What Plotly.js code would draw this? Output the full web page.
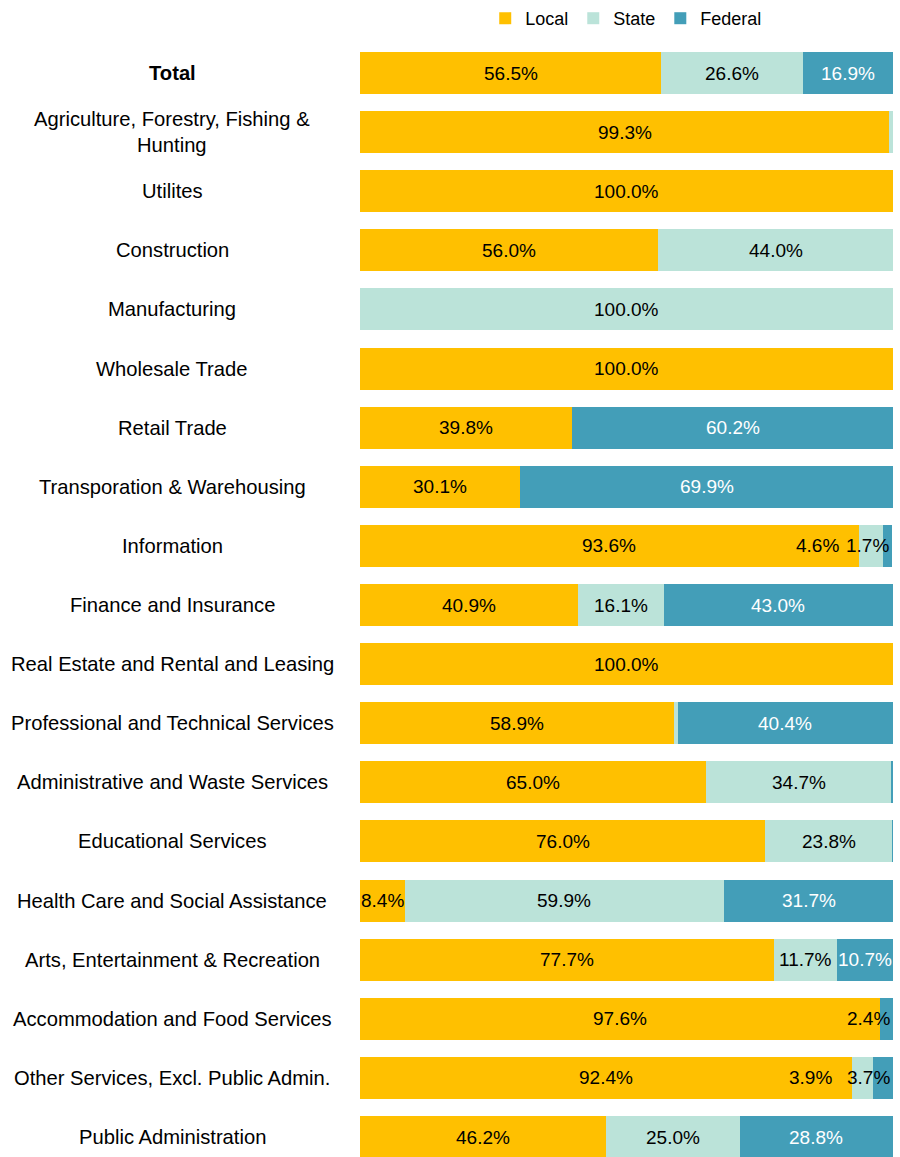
<!DOCTYPE html>
<html>
<head>
<meta charset="utf-8">
<script src="https://cdn.plot.ly/plotly-3.0.1.min.js"></script>
<style>
  html, body { margin: 0; padding: 0; background: #ffffff; }
  #chart { width: 900px; height: 1157px; }
</style>
</head>
<body>
<div id="chart"></div>
<script>
// ---------------- DATA ----------------
const categories = [
  "Total",
  "Agriculture, Forestry, Fishing & Hunting",
  "Utilites",
  "Construction",
  "Manufacturing",
  "Wholesale Trade",
  "Retail Trade",
  "Transporation & Warehousing",
  "Information",
  "Finance and Insurance",
  "Real Estate and Rental and Leasing",
  "Professional and Technical Services",
  "Administrative and Waste Services",
  "Educational Services",
  "Health Care and Social Assistance",
  "Arts, Entertainment & Recreation",
  "Accommodation and Food Services",
  "Other Services, Excl. Public Admin.",
  "Public Administration"
];
const categoryLabels = [
  "<b>Total</b>",
  "Agriculture, Forestry, Fishing &<br>Hunting",
  "Utilites",
  "Construction",
  "Manufacturing",
  "Wholesale Trade",
  "Retail Trade",
  "Transporation & Warehousing",
  "Information",
  "Finance and Insurance",
  "Real Estate and Rental and Leasing",
  "Professional and Technical Services",
  "Administrative and Waste Services",
  "Educational Services",
  "Health Care and Social Assistance",
  "Arts, Entertainment & Recreation",
  "Accommodation and Food Services",
  "Other Services, Excl. Public Admin.",
  "Public Administration"
];
const seriesNames = ["Local", "State", "Federal"];
const localShare   = [56.5, 99.3, 100.0, 56.0,   0.0, 100.0, 39.8, 30.1, 93.6, 40.9, 100.0, 58.9, 65.0, 76.0,  8.4, 77.7, 97.6, 92.4, 46.2];
const stateShare   = [26.6,  0.7,   0.0, 44.0, 100.0,   0.0,  0.0,  0.0,  4.6, 16.1,   0.0,  0.7, 34.7, 23.8, 59.9, 11.7,  0.0,  3.9, 25.0];
const federalShare = [16.9,  0.0,   0.0,  0.0,   0.0,   0.0, 60.2, 69.9,  1.7, 43.0,   0.0, 40.4,  0.3,  0.2, 31.7, 10.7,  2.4,  3.7, 28.8];

// ---------------- STYLE ----------------
const seriesValues = [localShare, stateShare, federalShare];
const seriesColors = ["#FFC000", "#BBE3D9", "#439EB8"];
const labelColors  = ["#000000", "#000000", "#ffffff"];
const FONT = "Liberation Sans, Arial, sans-serif";

const traces = seriesNames.map((name, s) => ({
  type: "bar",
  orientation: "h",
  name: name,
  y: categories,
  x: seriesValues[s],
  marker: { color: seriesColors[s], line: { width: 0 } },
  hoverinfo: "name+x"
}));

const annotations = [];
// category labels (centred in the left column)
categories.forEach((c, i) => {
  annotations.push({
    xref: "paper", yref: "y",
    x: -0.3527, y: c,
    xanchor: "center", yanchor: "middle",
    text: categoryLabels[i],
    showarrow: false,
    align: "center",
    font: { family: FONT, size: 20.2, color: "#000000" }
  });
});
// value labels
categories.forEach((c, i) => {
  let start = 0;
  const vals = seriesValues.map(arr => arr[i]);
  const lastNonZero = vals.reduce((acc, v, k) => (v > 0 ? k : acc), -1);
  vals.forEach((v, s) => {
    if (v >= 1) {
      const txt = v.toFixed(1) + "%";
      if (v >= 5) {
        annotations.push({
          xref: "x", yref: "y", x: start + v / 2, y: c,
          xanchor: "center", yanchor: "middle", text: txt, showarrow: false,
          font: { family: FONT, size: 19, color: labelColors[s] }
        });
      } else if (s === lastNonZero) {
        annotations.push({
          xref: "x", yref: "y", x: Math.min(Math.round((start + v) * 10) / 10, 100), y: c,
          xanchor: "right", yanchor: "middle", xshift: -1, text: txt, showarrow: false,
          font: { family: FONT, size: 19, color: "#000000" }
        });
      } else {
        annotations.push({
          xref: "x", yref: "y", x: Math.round(start * 10) / 10, y: c,
          xanchor: "right", yanchor: "middle", xshift: -18, text: txt, showarrow: false,
          font: { family: FONT, size: 19, color: "#000000" }
        });
      }
    }
    start += v;
  });
});

const layout = {
  width: 900, height: 1157,
  margin: { l: 360, r: 7, t: 44, b: 0, pad: 0 },
  paper_bgcolor: "#ffffff",
  plot_bgcolor: "#ffffff",
  barmode: "stack",
  bargap: 0.29,
  font: { family: FONT, size: 19, color: "#000000" },
  xaxis: { range: [0, 100], visible: false, fixedrange: true },
  yaxis: {
    type: "category",
    categoryorder: "array",
    categoryarray: categories,
    range: [18.338, -0.4906],
    autorange: false,
    showticklabels: false,
    showgrid: false, zeroline: false, showline: false, ticks: "",
    fixedrange: true
  },
  showlegend: true,
  legend: {
    orientation: "h",
    x: 0.4995, xanchor: "center",
    y: 1.0229, yanchor: "middle",
    traceorder: "normal",
    font: { family: FONT, size: 18, color: "#000000" },
    itemwidth: 30,
    bgcolor: "rgba(0,0,0,0)"
  },
  annotations: annotations
};

Plotly.newPlot("chart", traces, layout, { displayModeBar: false, staticPlot: true });
</script>
</body>
</html>
